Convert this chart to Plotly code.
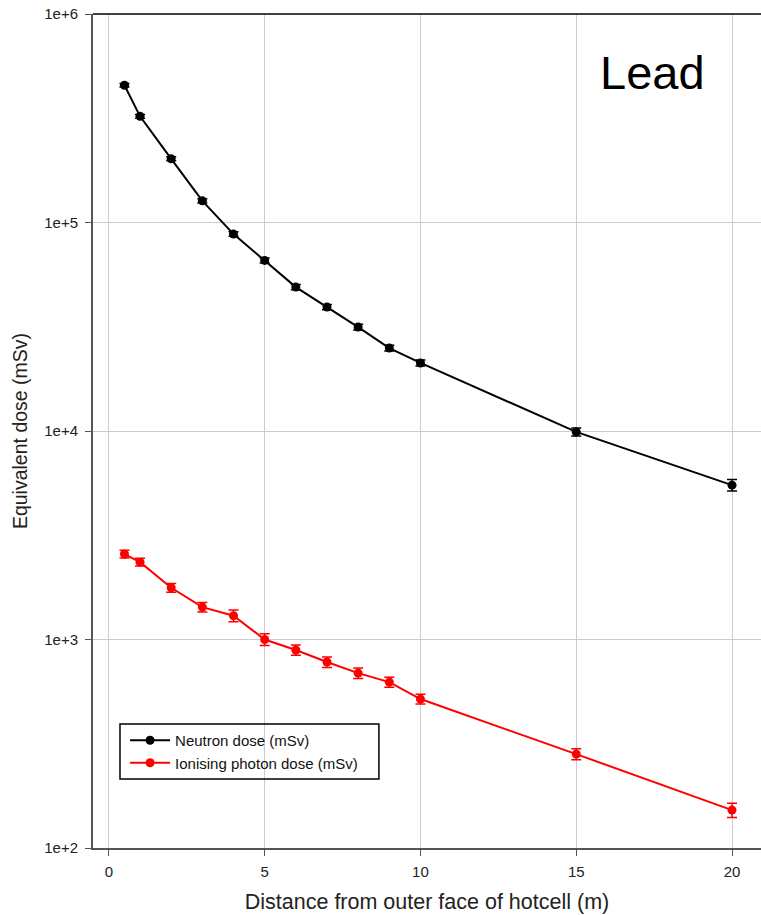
import plotly.graph_objects as go

distance = [0.5, 1, 2, 3, 4, 5, 6, 7, 8, 9, 10, 15, 20]
neutron_dose = [455000, 323000, 202000, 127000, 88000, 65800, 49000, 39300, 31500, 25000, 21200, 9900, 5500]
neutron_err = [9000, 7000, 4500, 3000, 2200, 1800, 1400, 1100, 1000, 800, 700, 450, 350]
photon_dose = [2570, 2350, 1770, 1430, 1300, 1000, 890, 780, 690, 625, 518, 282, 152]
photon_err = [110, 100, 85, 75, 85, 65, 50, 45, 40, 35, 28, 17, 12]

y_tick_vals = [100, 1000, 10000, 100000, 1000000]
y_tick_text = ["1e+2", "1e+3", "1e+4", "1e+5", "1e+6"]
x_tick_vals = [0, 5, 10, 15, 20]

fig = go.Figure()
fig.add_trace(go.Scatter(
    x=distance, y=neutron_dose, mode="lines+markers", name="Neutron dose (mSv)",
    line=dict(color="black", width=2), marker=dict(color="black", size=9),
    error_y=dict(type="data", array=neutron_err, color="black", thickness=1.5, width=5),
))
fig.add_trace(go.Scatter(
    x=distance, y=photon_dose, mode="lines+markers", name="Ionising photon dose (mSv)",
    line=dict(color="#ff0000", width=2), marker=dict(color="#ff0000", size=9),
    error_y=dict(type="data", array=photon_err, color="#ff0000", thickness=1.5, width=5),
))

fig.add_annotation(x=0.837, y=0.930, xref="paper", yref="paper", text="Lead", showarrow=False,
                   font=dict(size=47, color="black", family="Liberation Sans, Arial"),
                   xanchor="center", yanchor="middle")

# top border line
fig.add_shape(type="line", xref="paper", yref="paper", x0=0, x1=1, y0=1, y1=1,
              line=dict(color="black", width=1.5))
# legend frame
fig.add_shape(type="rect", xref="paper", yref="paper", x0=0.0404, x1=0.428, y0=0.0827, y1=0.1487,
              line=dict(color="black", width=1.5), fillcolor="rgba(0,0,0,0)", layer="above")

fig.update_layout(
    width=761, height=915,
    margin=dict(l=93, r=0, t=14, b=67),
    paper_bgcolor="white", plot_bgcolor="white",
    font=dict(family="Liberation Sans, Arial", color="#222"),
    showlegend=True,
    legend=dict(x=0.048, y=0.1487, xanchor="left", yanchor="top",
                borderwidth=0, bgcolor="rgba(255,255,255,0)",
                font=dict(size=15, color="#111"), tracegroupgap=0, itemwidth=40),
    xaxis=dict(range=[-0.51, 20.93], tickvals=x_tick_vals, showgrid=True, gridcolor="#cccccc",
               gridwidth=1, zeroline=False, showline=True, linecolor="#555", linewidth=2,
               ticks="outside", ticklen=6, tickcolor="#555", tickfont=dict(size=15, color="#222"),
               ticklabelstandoff=3, ticklabeloverflow="allow",
               title=dict(text="Distance from outer face of hotcell (m)", font=dict(size=21.5, color="#222"),
                          standoff=15)),
    yaxis=dict(type="log", range=[2, 6], tickvals=y_tick_vals, ticktext=y_tick_text,
               showgrid=True, gridcolor="#cccccc", gridwidth=1, zeroline=False,
               showline=True, linecolor="#555", linewidth=2, ticks="outside", ticklen=6,
               tickcolor="#555", tickfont=dict(size=15, color="#222"), ticklabelstandoff=4,
               ticklabeloverflow="allow",
               title=dict(text="Equivalent dose (mSv)", font=dict(size=19.5, color="#222"), standoff=11)),
)

fig.write_html("out.html", config={"displayModeBar": False},
               post_script="document.body.style.margin='0';document.body.style.overflow='hidden';")
